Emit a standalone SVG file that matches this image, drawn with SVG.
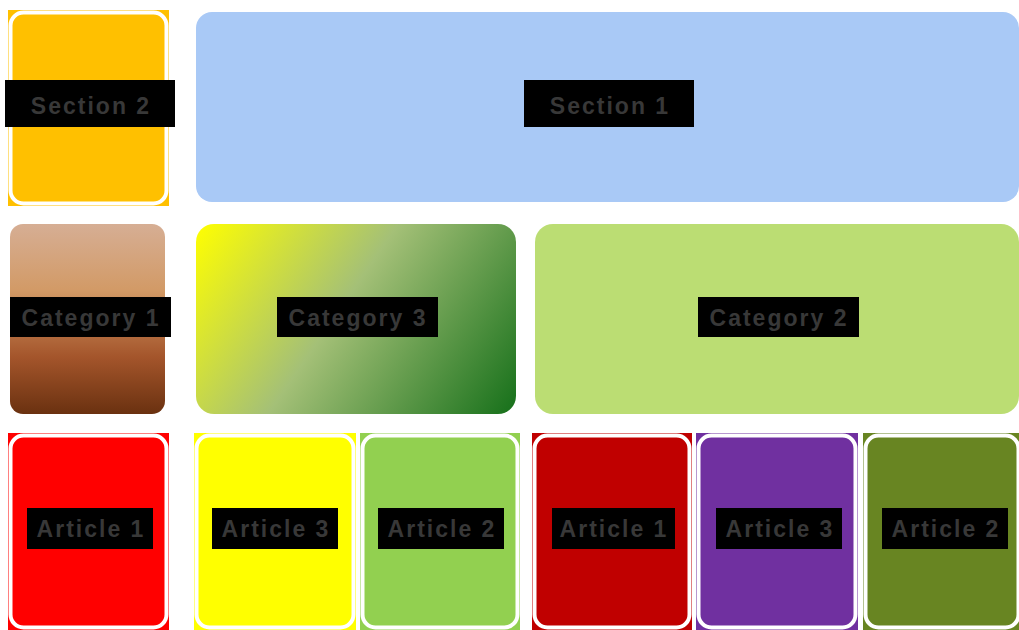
<svg xmlns="http://www.w3.org/2000/svg" width="1019" height="630" viewBox="0 0 1019 630">
<defs>
<linearGradient id="gBrown" x1="0" y1="0" x2="0" y2="1">
<stop offset="0" stop-color="#D6AE94"/>
<stop offset="0.35" stop-color="#D29A66"/>
<stop offset="0.7" stop-color="#A4552B"/>
<stop offset="1" stop-color="#6A3110"/>
</linearGradient>
<linearGradient id="gGreen" gradientUnits="userSpaceOnUse" x1="196" y1="224" x2="502" y2="434">
<stop offset="0" stop-color="#FFFF00"/>
<stop offset="0.45" stop-color="#A4C077"/>
<stop offset="1" stop-color="#16701A"/>
</linearGradient>
<style>
.lab{fill:#000000}
.t{font-family:"Liberation Sans",Arial,sans-serif;font-weight:bold;font-size:23px;fill:#383838;text-anchor:middle;dominant-baseline:central;letter-spacing:2px}
.card{stroke:#FFFFFF;stroke-width:4}
</style>
</defs>
<rect width="1019" height="630" fill="#FFFFFF"/>
<g id="connectors"/>
<g id="section2">
<rect x="8" y="10" width="161" height="196" fill="#FFC000"/>
<rect class="card" x="10.5" y="12.5" width="156" height="191" rx="13" fill="#FFC000"/>
<rect class="lab" x="5" y="80" width="170" height="47"/>
<text class="t" x="91" y="106">Section  2</text>
</g>
<g id="section1">
<rect x="196" y="12" width="823" height="190" rx="16" fill="#A9C9F6"/>
<rect class="lab" x="524" y="80" width="170" height="47"/>
<text class="t" x="610" y="106">Section  1</text>
</g>
<g id="category1">
<rect x="10" y="224" width="155" height="190" rx="13" fill="url(#gBrown)"/>
<rect class="lab" x="10" y="297" width="161" height="40"/>
<text class="t" x="91" y="318">Category  1</text>
</g>
<g id="category3">
<rect x="196" y="224" width="320" height="190" rx="18" fill="url(#gGreen)"/>
<rect class="lab" x="277" y="297" width="161" height="40"/>
<text class="t" x="358" y="318">Category  3</text>
</g>
<g id="category2">
<rect x="535" y="224" width="484" height="190" rx="18" fill="#BBDD73"/>
<rect class="lab" x="698" y="297" width="161" height="40"/>
<text class="t" x="779" y="318">Category  2</text>
</g>
<g id="article1a">
<rect x="8" y="433" width="161" height="197" fill="#FF0000"/>
<rect class="card" x="10.5" y="435.5" width="156" height="192" rx="13" fill="#FF0000"/>
<rect class="lab" x="27" y="508" width="126" height="41"/>
<text class="t" x="91" y="529">Article  1</text>
</g>
<g id="article3a">
<rect x="194" y="433" width="162" height="197" fill="#FFFF00"/>
<rect class="card" x="196.5" y="435.5" width="157" height="192" rx="13" fill="#FFFF00"/>
<rect class="lab" x="212" y="508" width="126" height="41"/>
<text class="t" x="276" y="529">Article  3</text>
</g>
<g id="article2a">
<rect x="360" y="433" width="160" height="197" fill="#92D050"/>
<rect class="card" x="362.5" y="435.5" width="155" height="192" rx="13" fill="#92D050"/>
<rect class="lab" x="378" y="508" width="126" height="41"/>
<text class="t" x="442" y="529">Article  2</text>
</g>
<g id="article1b">
<rect x="532" y="433" width="160" height="197" fill="#C00000"/>
<rect class="card" x="534.5" y="435.5" width="155" height="192" rx="13" fill="#C00000"/>
<rect class="lab" x="552" y="508" width="123" height="41"/>
<text class="t" x="614" y="529">Article  1</text>
</g>
<g id="article3b">
<rect x="696" y="433" width="162" height="197" fill="#7030A0"/>
<rect class="card" x="698.5" y="435.5" width="157" height="192" rx="13" fill="#7030A0"/>
<rect class="lab" x="716" y="508" width="126" height="41"/>
<text class="t" x="780" y="529">Article  3</text>
</g>
<g id="article2b">
<rect x="863" y="433" width="156" height="197" fill="#688522"/>
<rect class="card" x="865.5" y="435.5" width="153" height="192" rx="13" fill="#688522"/>
<rect class="lab" x="882" y="508" width="126" height="41"/>
<text class="t" x="946" y="529">Article  2</text>
</g>
</svg>
